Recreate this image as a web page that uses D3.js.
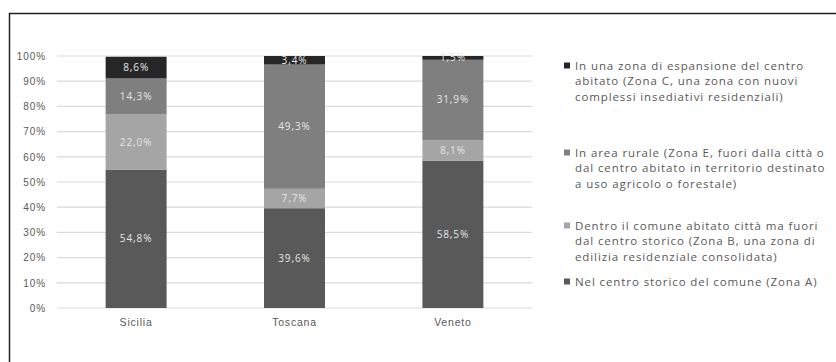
<!DOCTYPE html>
<html>
<head>
<meta charset="utf-8">
<script src="https://cdn.jsdelivr.net/npm/d3@7"></script>
<style>
  body { margin: 0; background: #fff; }
  svg { display: block; font-family: "Open Sans", sans-serif; }
</style>
</head>
<body>
<svg id="chart" width="836" height="362"></svg>
<script>

var regions = ['Sicilia', 'Toscana', 'Veneto'];
var zoneA = [54.8, 39.6, 58.5];
var zoneB = [22.0, 7.7, 8.1];
var zoneE = [14.3, 49.3, 31.9];
var zoneC = [8.6, 3.4, 1.5];
var yTicks = [0, 10, 20, 30, 40, 50, 60, 70, 80, 90, 100];

var legendLines = [
  ['Nel centro storico del comune (Zona A)'],
  ['Dentro il comune abitato città ma fuori', 'dal centro storico (Zona B, una zona di', 'edilizia residenziale consolidata)'],
  ['In area rurale (Zona E, fuori dalla città o', 'dal centro abitato in territorio destinato', 'a uso agricolo o forestale)'],
  ['In una zona di espansione del centro', 'abitato (Zona C, una zona con nuovi', 'complessi insediativi residenziali)']
];
var colors = ['#595959', '#a5a5a5', '#7f7f7f', '#262626'];

var svg = d3.select('#chart');

// frame
svg.append('path')
    .attr('d', 'M9.5,370 L9.5,13.5 L850,13.5')
    .attr('fill', 'none')
    .attr('stroke', '#222')
    .attr('stroke-width', 1.5);

var rows = regions.map(function(r, i) {
  return { region: r, a: zoneA[i], b: zoneB[i], e: zoneE[i], c: zoneC[i] };
});
var keys = ['a', 'b', 'e', 'c'];
var stacked = d3.stack().keys(keys)(rows);

var x = d3.scaleBand().domain(regions).range([57, 532]).paddingInner(0.615).paddingOuter(0.307);
var y = d3.scaleLinear().domain([0, 100]).range([308, 56]);

// grid
svg.append('g').selectAll('line')
    .data(yTicks)
    .enter().append('line')
    .attr('x1', 57).attr('x2', 532)
    .attr('y1', function(d) { return y(d); })
    .attr('y2', function(d) { return y(d); })
    .attr('stroke', '#d9d9d9')
    .attr('stroke-width', 1.2);

var yAxis = svg.append('g')
    .attr('transform', 'translate(46,0)')
    .call(d3.axisLeft(y).tickValues(yTicks).tickSize(0).tickFormat(function(d) { return d + '%'; }));
yAxis.select('.domain').remove();
yAxis.selectAll('text').attr('fill', '#595959').attr('font-size', 10).attr('letter-spacing', 0.9).attr('x', 0);

var xAxis = svg.append('g')
    .attr('transform', 'translate(0,308)')
    .call(d3.axisBottom(x).tickSize(0));
xAxis.select('.domain').remove();
xAxis.selectAll('text').attr('fill', '#595959').attr('font-size', 10.5).attr('letter-spacing', 0.8).attr('dy', '1.45em');

var layers = svg.append('g').selectAll('g')
    .data(stacked)
    .enter().append('g')
    .attr('fill', function(d, i) { return colors[i]; });

layers.selectAll('rect')
    .data(function(d) { return d; })
    .enter().append('rect')
    .attr('x', function(d) { return x(d.data.region); })
    .attr('width', x.bandwidth())
    .attr('y', function(d) { return y(d[1]); })
    .attr('height', function(d) { return y(d[0]) - y(d[1]); });

layers.selectAll('text')
    .data(function(d) { return d; })
    .enter().append('text')
    .attr('x', function(d) { return x(d.data.region) + x.bandwidth() / 2; })
    .attr('y', function(d) { return (y(d[0]) + y(d[1])) / 2; })
    .attr('dy', '0.35em')
    .attr('text-anchor', 'middle')
    .attr('font-size', 10)
    .attr('letter-spacing', 0.9)
    .attr('fill', '#e6e6e6')
    .text(function(d) { return (d[1] - d[0]).toFixed(1).replace('.', ',') + '%'; });

// legend, top entry first
var legendY = [66, 153, 226, 282];
var legend = svg.append('g');
[3, 2, 1, 0].forEach(function(s, i) {
  var g = legend.append('g').attr('transform', 'translate(564,' + legendY[i] + ')');
  g.append('rect').attr('x', 0).attr('y', -3.5).attr('width', 6).attr('height', 6).attr('fill', colors[s]);
  g.append('text')
      .attr('fill', '#595959')
      .attr('font-size', 11.5)
      .attr('letter-spacing', 0.9)
      .selectAll('tspan')
      .data(legendLines[s])
      .enter().append('tspan')
      .attr('x', 11)
      .attr('y', function(d, j) { return j * 15.3; })
      .attr('dy', '0.35em')
      .text(function(d) { return d; });
});

</script>
</body>
</html>
